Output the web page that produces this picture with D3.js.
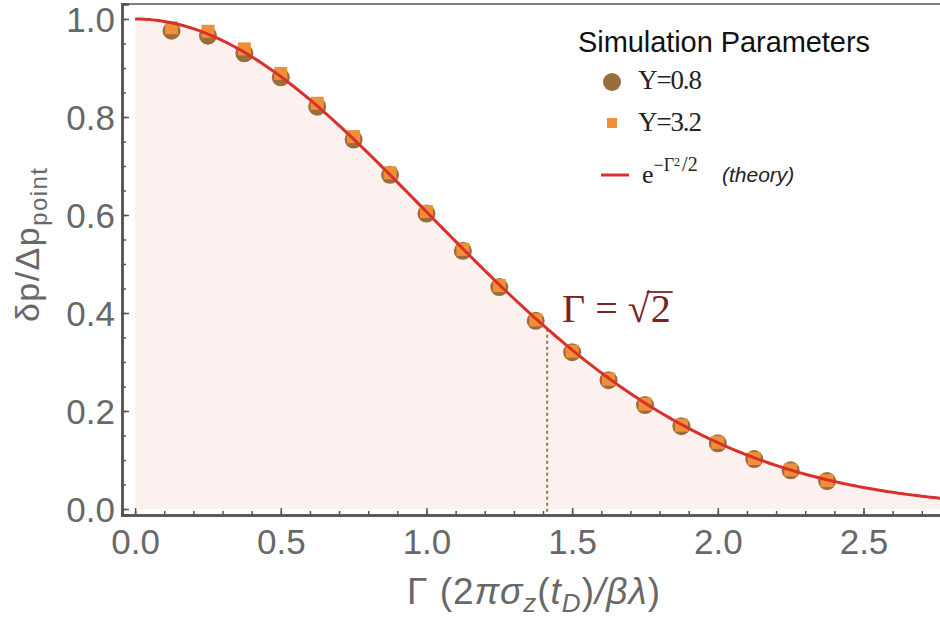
<!DOCTYPE html>
<html>
<head>
<meta charset="utf-8">
<script src="https://cdn.jsdelivr.net/npm/d3@7"></script>
<style>
  body { margin: 0; background: #fff; }
  svg { display: block; }
  .tick text { font-family: "Liberation Sans", Arial, sans-serif; font-size: 35px; fill: #686868; }
</style>
</head>
<body>
<script>
// Gamma values of the simulation points (k/8)
var gammaValues = [0.125, 0.25, 0.375, 0.5, 0.625, 0.75, 0.875, 1.0, 1.125, 1.25,
    1.375, 1.5, 1.625, 1.75, 1.875, 2.0, 2.125, 2.25, 2.375];
// Upsilon = 0.8 (circles)
var upsilon08 = [0.976, 0.966, 0.930, 0.881, 0.821, 0.754, 0.682, 0.603, 0.527, 0.453,
    0.384, 0.320, 0.263, 0.212, 0.169, 0.134, 0.102, 0.079, 0.057];
// Upsilon = 3.2 (squares)
var upsilon32 = [0.982, 0.975, 0.939, 0.889, 0.828, 0.760, 0.686, 0.607, 0.530, 0.456,
    0.386, 0.322, 0.265, 0.214, 0.171, 0.136, 0.103, 0.080, 0.058];

var xTicks = [0.0, 0.5, 1.0, 1.5, 2.0, 2.5];
var yTicks = [0.0, 0.2, 0.4, 0.6, 0.8, 1.0];

var width = 940, height = 625;
var plot = { left: 122, right: 941, top: 4, bottom: 515 };

var x = d3.scaleLinear()
    .domain([-0.045, 2.766])
    .range([plot.left, plot.right]);

var y = d3.scaleLinear()
    .domain([-0.01224, 1.0306])
    .range([plot.bottom, plot.top]);

// theory curve e^{-G^2/2}, the function named in the legend
var theory = function(g) { return Math.exp(-g * g / 2); };
var curveX = d3.range(0, 2.8, 0.01);

var svg = d3.select("body").append("svg")
    .attr("width", width)
    .attr("height", height);

svg.append("defs").append("clipPath")
    .attr("id", "clip")
    .append("rect")
    .attr("x", plot.left)
    .attr("y", plot.top)
    .attr("width", plot.right - plot.left)
    .attr("height", plot.bottom - plot.top);

var inner = svg.append("g").attr("clip-path", "url(#clip)");

// filling under the curve
var area = d3.area()
    .x(function(d) { return x(d); })
    .y0(y(0))
    .y1(function(d) { return y(theory(d)); });

inner.append("path")
    .datum(curveX)
    .attr("d", area)
    .attr("fill", "#fdf1f0");

// dotted marker at Gamma = sqrt(2)
inner.append("line")
    .attr("x1", x(Math.SQRT2))
    .attr("x2", x(Math.SQRT2))
    .attr("y1", y(theory(Math.SQRT2)))
    .attr("y2", plot.bottom)
    .attr("stroke", "#9a7a4e")
    .attr("stroke-width", 2)
    .attr("stroke-dasharray", "3,3");

// points
inner.selectAll(".circ")
    .data(gammaValues)
    .enter().append("circle")
    .attr("class", "circ")
    .attr("cx", function(d) { return x(d); })
    .attr("cy", function(d, i) { return y(upsilon08[i]); })
    .attr("r", 9)
    .attr("fill", "#9a6d3c");

inner.selectAll(".sq")
    .data(gammaValues)
    .enter().append("rect")
    .attr("class", "sq")
    .attr("x", function(d) { return x(d) - 6.5; })
    .attr("y", function(d, i) { return y(upsilon32[i]) - 6.5; })
    .attr("width", 13)
    .attr("height", 13)
    .attr("fill", "#ef8f38");

var line = d3.line()
    .x(function(d) { return x(d); })
    .y(function(d) { return y(theory(d)); });

inner.append("path")
    .datum(curveX)
    .attr("d", line)
    .attr("fill", "none")
    .attr("stroke", "#d9312a")
    .attr("stroke-width", 3);

// frame
svg.append("line")
    .attr("x1", plot.left).attr("x2", plot.right)
    .attr("y1", plot.top).attr("y2", plot.top)
    .attr("stroke", "#555").attr("stroke-width", 1.5);

// axes
var xAxis = d3.axisBottom(x).tickValues(xTicks).tickSize(-7).tickPadding(14)
    .tickFormat(d3.format(".1f"));
var xMinor = d3.axisBottom(x).tickValues(d3.range(0, 28).map(function(i) { return i / 10; }))
    .tickSize(-4).tickFormat("");
var yAxis = d3.axisLeft(y).tickValues(yTicks).tickSize(-7).tickPadding(7)
    .tickFormat(d3.format(".1f"));
var yMinor = d3.axisLeft(y).tickValues(d3.range(0, 21).map(function(i) { return i / 20; }))
    .tickSize(-4).tickFormat("");

function styleAxis(g) {
    g.select(".domain").attr("stroke", "#555").attr("stroke-width", 2.5);
    g.selectAll(".tick line").attr("stroke", "#555").attr("stroke-width", 1.5);
}

svg.append("g").attr("transform", "translate(0," + plot.bottom + ")").call(xMinor).call(styleAxis);
svg.append("g").attr("transform", "translate(0," + plot.bottom + ")").call(xAxis).call(styleAxis);
svg.append("g").attr("transform", "translate(" + plot.left + ",0)").call(yMinor).call(styleAxis);
svg.append("g").attr("transform", "translate(" + plot.left + ",0)").call(yAxis).call(styleAxis)
    .selectAll(".tick text").attr("dy", "0.36em");

// axis labels
var xl = svg.append("text")
    .attr("x", 407)
    .attr("y", 604)
    .attr("textLength", 253)
    .style("font-family", "Liberation Sans, Arial, sans-serif")
    .style("font-size", "37px")
    .style("fill", "#686868");
xl.append("tspan").text("Γ (2");
xl.append("tspan").style("font-style", "italic").text("πσ");
xl.append("tspan").style("font-style", "italic").style("font-size", "26px").attr("dy", 8).text("z");
xl.append("tspan").attr("dy", -8).text("(");
xl.append("tspan").style("font-style", "italic").text("t");
xl.append("tspan").style("font-style", "italic").style("font-size", "26px").attr("dy", 8).text("D");
xl.append("tspan").attr("dy", -8).text(")");
xl.append("tspan").style("font-style", "italic").text("/βλ");
xl.append("tspan").text(")");

var yl = svg.append("text")
    .attr("transform", "translate(39,322) rotate(-90)")
    .attr("textLength", 154)
    .style("font-family", "Liberation Sans, Arial, sans-serif")
    .style("font-size", "34px")
    .style("fill", "#686868");
yl.append("tspan").text("δp/Δp");
yl.append("tspan").style("font-size", "24px").attr("dy", 8).text("point");

// annotation Gamma = sqrt(2)
var serif = "Liberation Serif, Times New Roman, serif";
var ann = svg.append("text")
    .attr("x", 562)
    .attr("y", 322)
    .style("font-family", serif)
    .style("font-size", "40px")
    .style("fill", "#7a2224")
    .text("Γ = √");
var annW = ann.node().getComputedTextLength();
var ann2 = svg.append("text")
    .attr("x", 562 + annW + 1)
    .attr("y", 322)
    .style("font-family", serif)
    .style("font-size", "40px")
    .style("fill", "#7a2224")
    .text("2");
var ann2W = ann2.node().getComputedTextLength();
svg.append("line")
    .attr("x1", 562 + annW - 3).attr("x2", 562 + annW + ann2W + 3)
    .attr("y1", 292).attr("y2", 292)
    .attr("stroke", "#7a2224").attr("stroke-width", 1.8);

// legend
var legend = svg.append("g");
legend.append("text")
    .attr("x", 578).attr("y", 52)
    .attr("textLength", 292)
    .style("font-family", "Liberation Sans, Arial, sans-serif")
    .style("font-size", "29px")
    .style("fill", "#111")
    .text("Simulation Parameters");

legend.append("circle").attr("cx", 612).attr("cy", 82).attr("r", 9).attr("fill", "#9a6d3c");
legend.append("rect").attr("x", 607).attr("y", 118).attr("width", 10).attr("height", 10).attr("fill", "#ef8f38");
legend.append("line").attr("x1", 601).attr("x2", 629).attr("y1", 175).attr("y2", 175)
    .attr("stroke", "#d9312a").attr("stroke-width", 3);

legend.append("text").attr("x", 638).attr("y", 89)
    .attr("textLength", 64)
    .style("font-family", serif).style("font-size", "27px").style("fill", "#222")
    .text("Υ=0.8");
legend.append("text").attr("x", 638).attr("y", 131)
    .attr("textLength", 64)
    .style("font-family", serif).style("font-size", "27px").style("fill", "#222")
    .text("Υ=3.2");
var th = legend.append("text").attr("x", 642).attr("y", 183)
    .style("font-family", serif).style("font-size", "26px").style("fill", "#222");
th.append("tspan").text("e");
th.append("tspan").style("font-size", "18px").attr("dy", -12).text("−Γ");
th.append("tspan").style("font-size", "12px").attr("dy", -5).text("2");
th.append("tspan").style("font-size", "20px").attr("dx", 2).attr("dy", 5).text("/2");
legend.append("text").attr("x", 722).attr("y", 182)
    .style("font-family", "Liberation Sans, Arial, sans-serif")
    .style("font-size", "21px").style("font-style", "italic").style("fill", "#222")
    .text("(theory)");
</script>
</body>
</html>
